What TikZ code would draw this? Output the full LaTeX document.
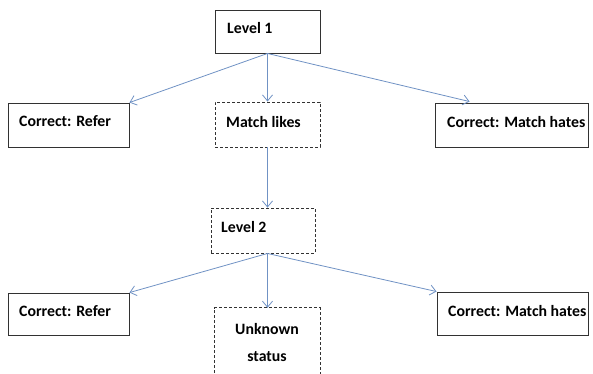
\documentclass[tikz,border=0pt]{standalone}
\usepackage{fontspec}
\setmainfont{Carlito}
\usetikzlibrary{arrows.meta,calc}
\definecolor{arrowblue}{RGB}{112,146,196}
\definecolor{boxline}{RGB}{50,50,50}
\tikzset{
  solidbox/.style={draw=boxline, line width=0.9pt, rectangle, inner sep=0pt},
  dashbox/.style={draw=boxline, line width=0.9pt, dash pattern=on 3pt off 2pt, rectangle, inner sep=0pt},
  openbox/.style={rectangle, inner sep=0pt},
  lbl/.style={anchor=base west, inner sep=0pt, font=\fontsize{15.8}{18}\selectfont\bfseries},
  clbl/.style={anchor=base, inner sep=0pt, font=\fontsize{15.8}{18}\selectfont\bfseries},
  conn/.style={draw=arrowblue, line width=0.8pt, -{Straight Barb[length=6pt,width=10pt]}}
}
\begin{document}
\begin{tikzpicture}[x=1pt,y=-1pt]
\useasboundingbox (0,0) rectangle (593,373);
\clip (0,0) rectangle (593,373);
% boxes
\node[solidbox, minimum width=105pt, minimum height=43pt] (L1) at (267.5,31.5) {};
\node[dashbox, minimum width=105pt, minimum height=45pt] (ML) at (267.5,124.5) {};
\node[solidbox, minimum width=121pt, minimum height=44pt] (CR1) at (68.5,125) {};
\node[solidbox, minimum width=153pt, minimum height=44pt] (CM1) at (511.5,125) {};
\node[dashbox, minimum width=104pt, minimum height=45pt] (L2) at (263,230.5) {};
\node[solidbox, minimum width=121pt, minimum height=42pt] (CR2) at (68.5,314) {};
\node[solidbox, minimum width=151pt, minimum height=43pt] (CM2) at (512.5,313.5) {};
\node[openbox, minimum width=105pt, minimum height=80pt] (UK) at (267.5,348) {};
\draw[boxline, line width=0.9pt, dash pattern=on 3pt off 2pt] (UK.south west) -- (UK.north west) -- (UK.north east) -- (UK.south east);
% labels
\node[lbl] (t1) at (227,33) {Level 1};
\node[lbl] (t2) at (226,127) {Match likes};
\node[lbl] (t3) at (19,126.5) {Correct: Refer};
\node[lbl] (t4) at (447,127) {Correct: Match hates};
\node[lbl] (t5) at (221,232) {Level 2};
\node[lbl] (t6) at (19,316) {Correct: Refer};
\node[lbl] (t7) at (448,316) {Correct: Match hates};
\node[clbl] (t8) at (267,334) {Unknown};
\node[clbl] (t9) at (267,361) {status};
% connectors
\coordinate (CM1in) at ($(CM1.north west)+(35,-1)$);
\draw[conn] (L1.south) -- (CR1.north east);
\draw[conn] (L1.south) -- (ML.north);
\draw[conn] (L1.south) -- (CM1in);
\draw[conn] (ML.south) -- (ML.south |- L2.north);
\draw[conn] (L2.south -| ML.south) -- (CR2.north east);
\draw[conn] (L2.south -| ML.south) -- (UK.north);
\draw[conn] (L2.south -| ML.south) -- (CM2.north west);
\end{tikzpicture}
\end{document}
